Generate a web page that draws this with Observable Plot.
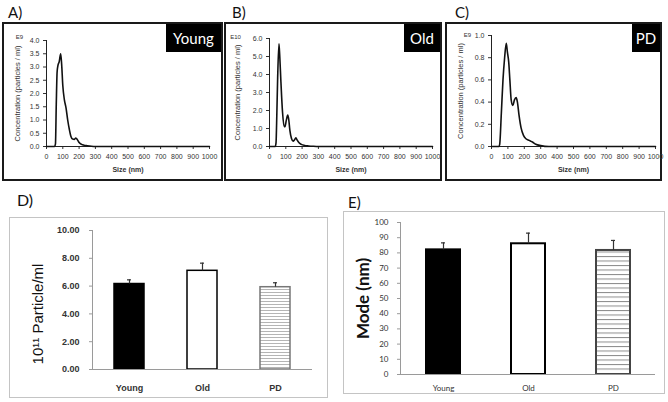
<!DOCTYPE html>
<html><head><meta charset="utf-8">
<script src="https://cdn.jsdelivr.net/npm/d3@7"></script>
<script src="https://cdn.jsdelivr.net/npm/@observablehq/plot@0.6"></script>
<style>
html,body{margin:0;padding:0;background:#fff;}
#fig{position:relative;width:668px;height:402px;overflow:hidden;background:#fff;}
.box{position:absolute;box-sizing:border-box;}
.dark{border:2px solid #1a1a1a;}
.light{border:1px solid #c4c4c4;}
.slot{position:absolute;}
.slot svg{display:block;}
.letter{position:absolute;font-family:Lato,"Open Sans",sans-serif;font-size:15px;line-height:15px;color:#111;white-space:nowrap;}
.tag{position:absolute;background:#000;color:#fff;font-family:Lato,"Open Sans",sans-serif;font-size:15px;display:flex;align-items:center;justify-content:center;}
</style></head>
<body><div id="fig"></div>
<script>
// ---- data ----
const youngSize = [0, 40, 50, 55, 60, 65, 70, 78, 87, 93, 100, 110, 120, 130, 140, 150, 160, 170, 180, 190, 200, 215, 230, 250, 275, 300, 400, 1000];
const youngConc = [0, 0, 0, 0.1, 1.6, 2.8, 3.05, 3.2, 3.5, 3.1, 2.3, 1.75, 1.45, 1.0, 0.65, 0.38, 0.28, 0.27, 0.32, 0.25, 0.15, 0.08, 0.05, 0.03, 0.01, 0, 0, 0];
const oldSize = [0, 35, 40, 45, 50, 58, 63, 70, 80, 90, 95, 103, 112, 118, 125, 135, 145, 152, 162, 170, 180, 195, 215, 240, 270, 300, 1000];
const oldConc = [0, 0, 0.2, 1.8, 3.8, 5.7, 5.0, 3.6, 1.9, 1.1, 1.1, 1.45, 1.75, 1.5, 0.9, 0.45, 0.3, 0.35, 0.48, 0.35, 0.22, 0.12, 0.06, 0.03, 0.01, 0, 0];
const pdSize = [0, 45, 50, 60, 70, 80, 90, 97, 105, 112, 120, 130, 140, 150, 158, 168, 180, 195, 210, 230, 250, 270, 300, 350, 1000];
const pdConc = [0, 0, 0.02, 0.3, 0.6, 0.8, 0.93, 0.85, 0.76, 0.6, 0.42, 0.37, 0.42, 0.44, 0.4, 0.28, 0.17, 0.1, 0.07, 0.055, 0.04, 0.02, 0.008, 0, 0];
const sizeTicks = [0, 100, 200, 300, 400, 500, 600, 700, 800, 900, 1000];
const youngTicks = [0, 0.5, 1, 1.5, 2, 2.5, 3, 3.5, 4];
const oldTicks = [0, 1, 2, 3, 4, 5, 6];
const pdTicks = [0, 0.2, 0.4, 0.6, 0.8, 1.0];

const groups = ["Young", "Old", "PD"];
const particles = [6.15, 7.1, 5.92];
const particlesErr = [0.3, 0.55, 0.32];
const modes = [82, 86, 81.6];
const modesErr = [4.6, 7, 6.6];
const particleTicks = [0, 2, 4, 6, 8, 10];
const modeTicks = [0, 10, 20, 30, 40, 50, 60, 70, 80, 90, 100];

const fig = document.getElementById("fig");
function place(node, left, top, cls) {
  const d = document.createElement("div");
  d.className = cls || "slot";
  d.style.left = left + "px"; d.style.top = top + "px";
  if (node) d.appendChild(node);
  fig.appendChild(d);
  return d;
}
function box(left, top, w, h, cls) {
  const d = place(null, left, top, "box " + cls);
  d.style.width = w + "px"; d.style.height = h + "px";
}
function letter(t, left, top, size) {
  const d = place(null, left, top, "letter");
  d.textContent = t;
  if (size) { d.style.fontSize = size + "px"; d.style.lineHeight = size + "px"; }
}
function tag(t, left, top, w, h) {
  const d = place(null, left, top, "tag");
  d.style.width = w + "px"; d.style.height = h + "px";
  d.textContent = t;
}

function distPlot(o) {
  return Plot.plot({
    width: o.width, height: o.height,
    marginLeft: o.ml, marginRight: o.mr, marginTop: o.mt, marginBottom: o.mb,
    style: {fontFamily: "'Liberation Sans', Arial, sans-serif", fontSize: "7px", color: "#333", background: "transparent", overflow: "visible"},
    x: {domain: [0, 1000]},
    y: {domain: [0, o.yTicks[o.yTicks.length - 1]]},
    marks: [
      Plot.axisX({ticks: sizeTicks, tickFormat: d3.format("d"), tickSize: 3, tickPadding: 5, label: null}),
      Plot.axisY({ticks: o.yTicks, tickFormat: d3.format(".1f"), tickSize: 3, tickPadding: 4, label: null}),
      Plot.ruleY([0], {stroke: "#222"}),
      Plot.ruleX([0], {stroke: "#222"}),
      Plot.line(o.sizes, {x: o.sizes, y: o.conc, curve: "monotone-x", stroke: "#111", strokeWidth: 1.6}),
      Plot.text(["Concentration (particles / ml)"], {text: d => d, frameAnchor: "left", textAnchor: "middle", dx: o.titleDx, rotate: -90, fontSize: 7.5, fill: "#333"}),
      Plot.text([o.exp], {text: d => d, frameAnchor: "top-left", textAnchor: "middle", dx: o.expDx, dy: o.expDy, fontSize: 6, fill: "#333"}),
      Plot.text(["Size (nm)"], {text: d => d, frameAnchor: "bottom", dy: 25, fontWeight: "bold", fontSize: 7, fill: "#333"})
    ]
  });
}

function addStripes(svg, id, gap, color) {
  const defs = d3.select(svg).insert("defs", ":first-child");
  const p = defs.append("pattern").attr("id", id).attr("patternUnits", "userSpaceOnUse")
    .attr("width", 8).attr("height", gap);
  p.append("rect").attr("width", 8).attr("height", gap).attr("fill", "#fff");
  p.append("line").attr("x1", 0).attr("x2", 8).attr("y1", 0.5).attr("y2", 0.5)
    .attr("stroke", color).attr("stroke-width", 1);
}

function barPlot(o) {
  const rows = groups.map((g, i) => ({group: g, value: o.values[i], err: o.errs[i]}));
  const svg = Plot.plot({
    width: o.width, height: o.height,
    marginLeft: o.ml, marginRight: o.mr, marginTop: o.mt, marginBottom: o.mb,
    style: {fontFamily: o.font, fontSize: o.fontSize + "px", fontWeight: o.fontWeight, color: "#333", background: "transparent", overflow: "visible"},
    x: {domain: groups, paddingInner: o.pad, paddingOuter: o.pad / 2},
    y: {domain: [0, o.ticks[o.ticks.length - 1]]},
    marks: [
      Plot.barY(rows.filter(d => d.group === "Young"), {x: "group", y: "value", fill: "#000", stroke: "#000", strokeWidth: o.sw}),
      Plot.barY(rows.filter(d => d.group === "Old"), {x: "group", y: "value", fill: "#fff", stroke: "#000", strokeWidth: o.sw}),
      Plot.barY(rows.filter(d => d.group === "PD"), {x: "group", y: "value", fill: "url(#" + o.pattern + ")", stroke: o.pdStroke, strokeWidth: o.sw}),
      Plot.ruleX(rows, {x: "group", y1: "value", y2: d => d.value + d.err, stroke: "#333", strokeWidth: 1.2}),
      Plot.tickY(rows, {x: "group", y: d => d.value + d.err, insetLeft: o.capInset, insetRight: o.capInset, stroke: "#333", strokeWidth: 1.2}),
      Plot.ruleY([0], {stroke: "#9a9a9a"}),
      Plot.frame({anchor: "left", stroke: "#9a9a9a"}),
      Plot.axisY({ticks: o.ticks, tickFormat: o.fmt, tickSize: 3, tickPadding: o.yPad, label: null, stroke: "#9a9a9a"}),
      Plot.axisX({tickSize: 0, tickPadding: o.xPad, label: null}),
      Plot.text([o.title], {text: d => d, frameAnchor: "left", textAnchor: "middle", dx: o.titleDx, dy: o.titleDy, rotate: -90, fontSize: o.titleSize, fontWeight: o.titleWeight, fontFamily: o.titleFont, fill: "#111"})
    ]
  });
  addStripes(svg, o.pattern, o.gap, o.stripe);
  return svg;
}

// panel boxes
box(2, 22, 221, 159, "dark");
box(224, 22, 218, 159, "dark");
box(445, 22, 217, 159, "dark");
box(9, 217, 319, 181, "light");
box(343, 211, 322, 183, "light");

// NTA distributions
place(distPlot({sizes: youngSize, conc: youngConc, yTicks: youngTicks, exp: "E9",
  width: 221, height: 159, ml: 44, mr: 14, mt: 18, mb: 35, titleDx: -29, expDx: -27, expDy: -6}), 2, 22);
place(distPlot({sizes: oldSize, conc: oldConc, yTicks: oldTicks, exp: "E10",
  width: 218, height: 159, ml: 45, mr: 10, mt: 16, mb: 35, titleDx: -32, expDx: -34, expDy: -4}), 224, 22);
place(distPlot({sizes: pdSize, conc: pdConc, yTicks: pdTicks, exp: "E9",
  width: 217, height: 159, ml: 46, mr: 7, mt: 13, mb: 35, titleDx: -31, expDx: -24, expDy: -3}), 445, 22);

// bar charts
place(barPlot({values: particles, errs: particlesErr, ticks: particleTicks, fmt: d3.format(".2f"),
  width: 319, height: 181, ml: 83, mr: 16, mt: 13, mb: 29, pad: 0.59, capInset: 13,
  font: "'Liberation Sans', Arial, sans-serif", fontSize: 9, fontWeight: "bold", yPad: 10, xPad: 15,
  sw: 1.5, pdStroke: "#777", pattern: "stripesD", gap: 3, stripe: "#b5b5b5",
  title: "10\u00B9\u00B9 Particle/ml", titleDx: -54, titleDy: 14, titleSize: 15, titleWeight: "normal",
  titleFont: "'Liberation Sans', Arial, sans-serif"}), 9, 217);
place(barPlot({values: modes, errs: modesErr, ticks: modeTicks, fmt: d3.format("d"),
  width: 322, height: 183, ml: 57, mr: 10, mt: 11, mb: 20, pad: 0.6, capInset: 15,
  font: "Lato, 'Open Sans', sans-serif", fontSize: 8, fontWeight: "normal", yPad: 9, xPad: 11,
  sw: 2, pdStroke: "#444", pattern: "stripesE", gap: 4.5, stripe: "#8a8a8a",
  title: "Mode (nm)", titleDx: -37, titleDy: 0, titleSize: 17, titleWeight: "bold",
  titleFont: "Lato, 'Open Sans', sans-serif"}), 343, 211);

// tags and letters
tag("Young", 166, 24, 55, 28);
tag("Old", 404, 24, 36, 28);
tag("PD", 632, 24, 28, 28);
letter("A)", 8, 5);
letter("B)", 232, 5);
letter("C)", 455, 5);
letter("D)", 17, 192, 16);
letter("E)", 348, 195);
</script>
</body></html>
